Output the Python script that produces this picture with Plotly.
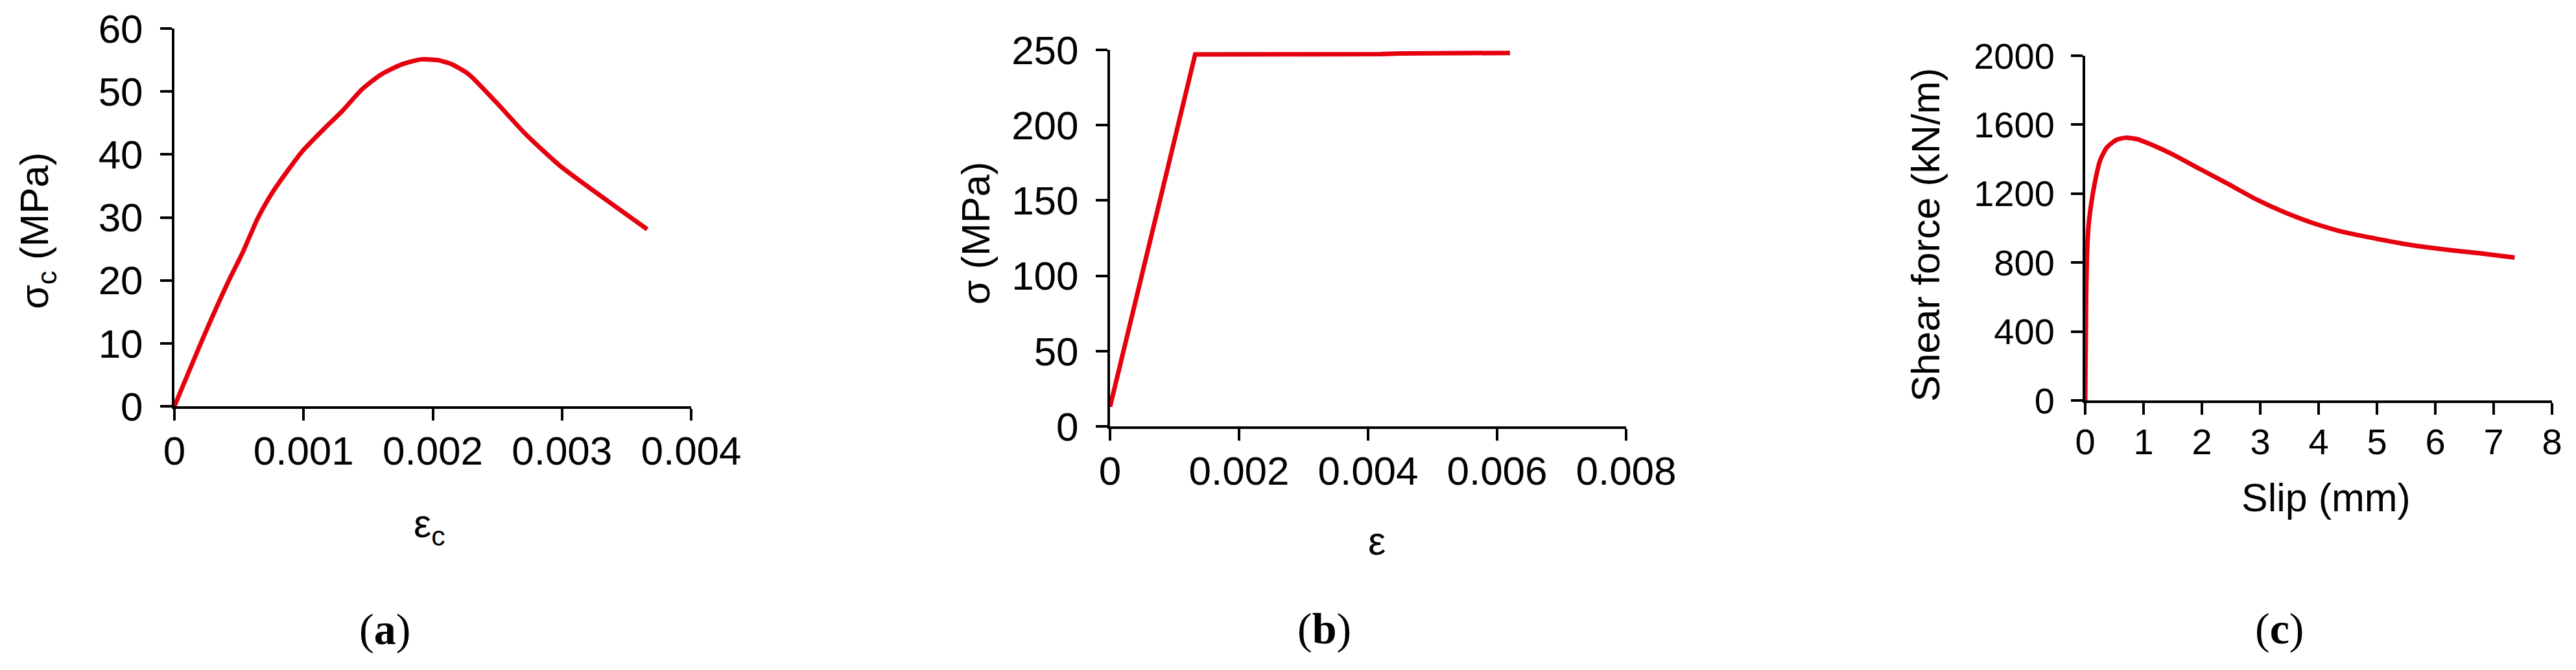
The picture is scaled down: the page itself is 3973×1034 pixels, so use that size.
import plotly.graph_objects as go

W, H = 3973, 1034
OFF = 8  # page body margin offset compensation

# Panel (a): concrete stress-strain
strain_c = [0, 0.000223, 0.000415, 0.00053, 0.000646, 0.00076, 0.000876, 0.00099, 0.00115, 0.0013,
            0.00145, 0.0016, 0.00176, 0.00191, 0.00203, 0.00214, 0.00228, 0.00249, 0.00272, 0.00299,
            0.00326, 0.00349, 0.00366]
stress_c = [0, 10.9, 19.7, 24.5, 29.9, 34.0, 37.4, 40.5, 43.9, 46.9,
            50.3, 52.7, 54.3, 55.1, 55.0, 54.4, 52.7, 48.3, 43.2, 38.1,
            34.0, 30.6, 28.1]

# Panel (b): steel stress-strain
strain_s = [0, 0.00132, 0.0042, 0.0045, 0.0062]
stress_s = [13, 247, 247.2, 247.6, 248]

# Panel (c): shear force-slip
slip = [0, 0.016, 0.03, 0.056, 0.11, 0.175, 0.255, 0.37, 0.53, 0.69, 0.89, 1.17, 1.49, 1.97,
        2.45, 2.92, 3.40, 3.88, 4.36, 4.92, 5.47, 6.11, 6.75, 7.36]
shear = [0, 586, 834, 1007, 1156, 1280, 1392, 1467, 1511, 1524, 1516, 1479, 1429, 1342,
         1256, 1169, 1094, 1032, 983, 943, 908, 878, 854, 829]

RED = "#e6000e"
FONT = "Liberation Sans, Arial, sans-serif"
SERIF = "Liberation Serif, Times New Roman, serif"


def px(x):
    return (x - OFF) / W


def py(y):
    return 1 - (y - OFF) / H


fig = go.Figure()
fig.add_trace(go.Scatter(x=strain_c, y=stress_c, mode="lines",
                         line=dict(color=RED, width=7, shape="spline", smoothing=0.6),
                         xaxis="x", yaxis="y", showlegend=False))
fig.add_trace(go.Scatter(x=strain_s, y=stress_s, mode="lines", line=dict(color=RED, width=7),
                         xaxis="x2", yaxis="y2", showlegend=False))
fig.add_trace(go.Scatter(x=slip, y=shear, mode="lines",
                         line=dict(color=RED, width=7, shape="spline", smoothing=0.6),
                         xaxis="x3", yaxis="y3", showlegend=False))

common = dict(showline=True, linecolor="black", linewidth=4, ticks="outside", ticklen=18, tickwidth=4,
              tickcolor="black", showgrid=False, zeroline=False, fixedrange=True, automargin=False)


def tf(size):
    return dict(family=FONT, size=size, color="black")


XSTAND = -6
YSTAND = 14

fig.update_layout(
    template="none",
    width=W, height=H, margin=dict(l=0, r=0, t=0, b=0, pad=0),
    paper_bgcolor="white", plot_bgcolor="white",
    xaxis=dict(domain=[px(269), px(1066)], range=[0, 0.004], dtick=0.001, tick0=0, anchor="y",
               tickfont=tf(62), ticklabelstandoff=XSTAND, **common),
    yaxis=dict(domain=[py(627), py(44)], range=[0, 60], dtick=10, anchor="x",
               tickfont=tf(62), ticklabelstandoff=YSTAND, **common),
    xaxis2=dict(domain=[px(1712), px(2508)], range=[0, 0.008], dtick=0.002, tick0=0, anchor="y2",
                tickfont=tf(62), ticklabelstandoff=XSTAND, **common),
    yaxis2=dict(domain=[py(658), py(77)], range=[0, 250], dtick=50, anchor="x2",
                tickfont=tf(62), ticklabelstandoff=YSTAND, **common),
    xaxis3=dict(domain=[px(3216), px(3936)], range=[0, 8], dtick=1, tick0=0, anchor="y3",
                tickfont=tf(56), ticklabelstandoff=XSTAND, **common),
    yaxis3=dict(domain=[py(618), py(86)], range=[0, 2000], dtick=400, anchor="x3",
                tickfont=tf(56), ticklabelstandoff=YSTAND, **common),
)

ann = []


def add(text, x, y, size=61, angle=0, family=FONT):
    ann.append(dict(text=text, x=px(x), y=py(y), xref="paper", yref="paper", showarrow=False,
                    xanchor="center", yanchor="middle", textangle=angle,
                    font=dict(family=family, size=size, color="black")))


add("σ<sub>c</sub> (MPa)", 58, 356, angle=-90)
add("ε<sub>c</sub>", 662, 812)
add("(<b>a</b>)", 593, 971, size=68, family=SERIF)
add("σ (MPa)", 1505, 360, angle=-90)
add("ε", 2123, 835)
add("(<b>b</b>)", 2042, 970, size=68, family=SERIF)
add("Shear force (kN/m)", 2970, 363, angle=-90)
add("Slip (mm)", 3587, 768)
add("(<b>c</b>)", 3516, 970, size=68, family=SERIF)
fig.update_layout(annotations=ann)

fig.write_html("out.html")
